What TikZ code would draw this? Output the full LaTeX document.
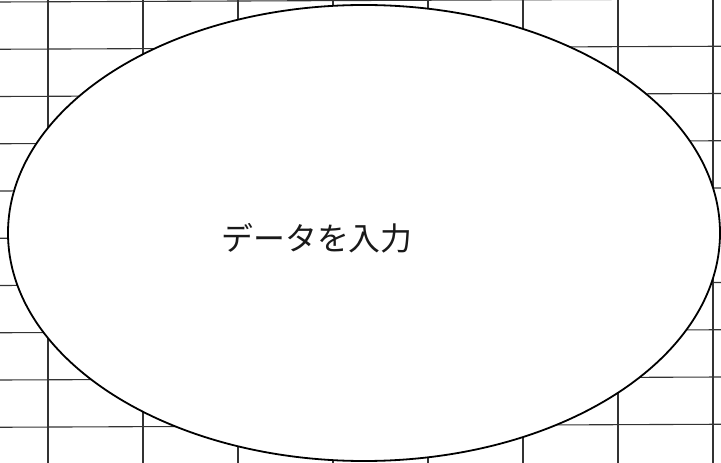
\documentclass[tikz,border=0pt]{standalone}
\usepackage{fontspec}
\newfontfamily\cjk{Noto Sans CJK JP}
\usetikzlibrary{shapes.geometric}
\tikzset{
  gridline/.style={draw=black!80, line width=1.1bp},
  bigoval/.style={ellipse, draw=black, fill=white, line width=1.8bp, inner sep=0pt, minimum width=712bp, minimum height=456bp},
  label/.style={font=\cjk\fontsize{32}{36}\selectfont, text=black!90}
}
\begin{document}
\begin{tikzpicture}[x=1bp,y=-1bp]
\useasboundingbox (0,0) rectangle (721,463);
\fill[white] (0,0) rectangle (721,463);
\foreach \k in {0,...,9} {
  \draw[gridline] (0,{2+47.25*\k}) -- (721,{2+47.25*\k-3});
}
\foreach \k in {0,...,7} {
  \draw[gridline] ({48+95*\k},0) -- ({48+95*\k},463);
}
\node[bigoval] (oval) at (364,233) {};
\node[label] (txt) at (317,238) {データを入力};
\end{tikzpicture}
\end{document}
